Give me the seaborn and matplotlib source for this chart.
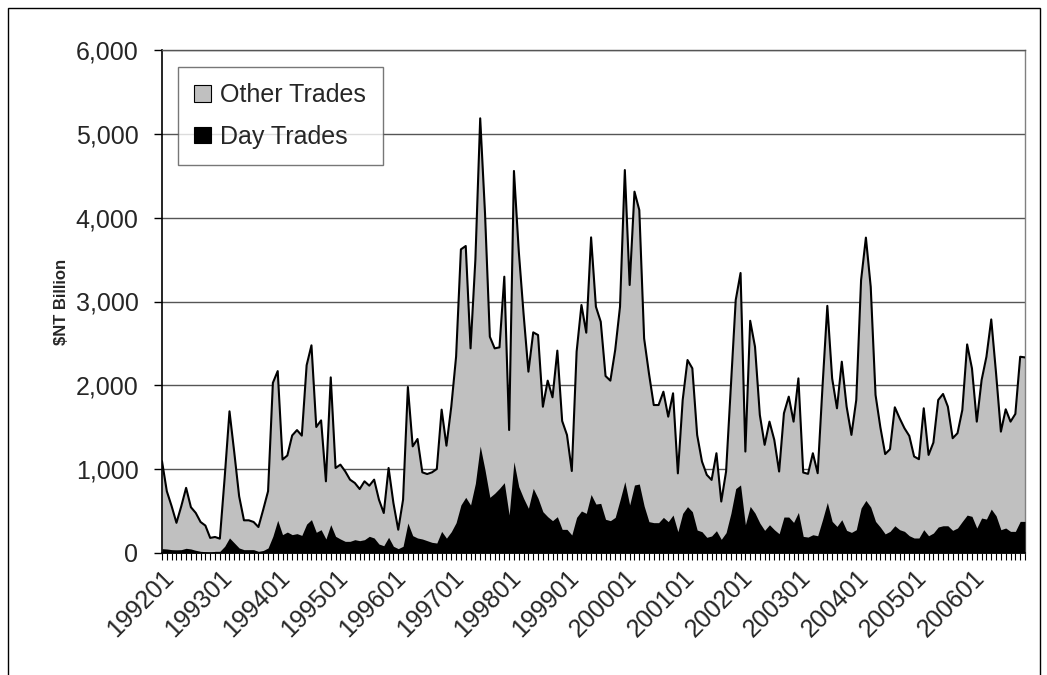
import matplotlib
matplotlib.use("Agg")
import matplotlib.pyplot as plt
from matplotlib.patches import Patch, Rectangle
from matplotlib.ticker import FuncFormatter
import numpy as np
import seaborn as sns

# monthly turnover, $NT billion, 199201 .. 200612
years = list(range(1992, 2007))
months = [f"{y}{m:02d}" for y in years for m in range(1, 13)]

total_trades = [
    1095, 737, 558, 360, 558, 777, 546, 478, 370, 327, 180, 191,
    171, 900, 1690, 1195, 677, 390, 390, 370, 310, 518, 737, 2030,
    2170, 1115, 1163, 1402, 1466, 1400, 2240, 2477, 1503, 1582, 855, 2095,
    1014, 1054, 974, 875, 835, 763, 855, 803, 875, 636, 477, 1014,
    596, 278, 636, 1980, 1272, 1360, 962, 942, 962, 1002, 1710, 1280,
    1745, 2342, 3622, 3662, 2441, 3500, 5185, 4050, 2580, 2441, 2453, 3296,
    1467, 4557, 3600, 2850, 2163, 2632, 2600, 1745, 2056, 1857, 2414, 1575,
    1408, 978, 2402, 2958, 2628, 3765, 2938, 2759, 2111, 2056, 2421, 2938,
    4568, 3197, 4310, 4091, 2560, 2143, 1765, 1765, 1924, 1626, 1905, 950,
    1825, 2302, 2203, 1408, 1091, 932, 872, 1190, 614, 972, 1984, 3018,
    3340, 1210, 2770, 2460, 1647, 1290, 1567, 1349, 972, 1667, 1865, 1567,
    2083, 960, 944, 1190, 952, 1984, 2948, 2083, 1726, 2282, 1746, 1409,
    1825, 3254, 3762, 3175, 1885, 1500, 1180, 1238, 1738, 1607, 1488, 1397,
    1151, 1119, 1726, 1170, 1317, 1825, 1897, 1746, 1369, 1429, 1706, 2488,
    2202, 1567, 2063, 2341, 2786, 2143, 1448, 1714, 1567, 1659, 2341, 2333,
]

day_trades = [
    52, 48, 40, 38, 40, 56, 48, 32, 20, 16, 8, 20,
    20, 80, 180, 120, 60, 40, 40, 40, 20, 30, 60, 200,
    390, 219, 250, 219, 231, 210, 345, 398, 247, 278, 167, 338,
    199, 167, 139, 139, 159, 147, 159, 199, 179, 107, 87, 187,
    80, 52, 80, 358, 207, 179, 167, 147, 127, 119, 258, 177,
    254, 362, 573, 664, 573, 831, 1276, 990, 664, 712, 771, 839,
    453, 1089, 791, 652, 533, 771, 652, 493, 433, 386, 433, 282,
    282, 215, 425, 501, 473, 698, 584, 592, 402, 386, 425, 632,
    851, 573, 811, 823, 561, 374, 362, 362, 425, 374, 453, 254,
    473, 553, 493, 274, 254, 187, 203, 266, 163, 243, 473, 768,
    812, 337, 556, 476, 357, 270, 337, 278, 230, 429, 429, 365,
    484, 198, 190, 218, 206, 397, 603, 377, 317, 397, 270, 246,
    278, 536, 627, 548, 377, 308, 228, 258, 325, 278, 258, 206,
    179, 179, 278, 206, 238, 310, 325, 325, 270, 298, 377, 452,
    437, 298, 417, 405, 524, 444, 278, 298, 258, 258, 377, 377,
]

sns.set_theme(style="white")
plt.rcParams["font.family"] = ["Liberation Sans", "DejaVu Sans"]

x = np.arange(len(months))

fig = plt.figure(figsize=(10.47, 6.75), dpi=100)
ax = fig.add_axes([162 / 1047, 1 - 553 / 675, 863 / 1047, 503 / 675])

ax.fill_between(x, 0, total_trades, color="#c0c0c0", lw=0, zorder=2)
ax.fill_between(x, 0, day_trades, color="black", lw=0, zorder=3)
sns.lineplot(x=x, y=total_trades, color="black", lw=1.5, ax=ax, zorder=4)

ax.set_xlim(0, len(months) - 1)
ax.set_ylim(0, 6000)
ax.set_yticks(range(0, 6001, 1000))
ax.yaxis.set_major_formatter(FuncFormatter(lambda v, p: f"{int(v):,}"))
ax.yaxis.grid(True, color="#555555", lw=1)
ax.set_axisbelow(True)

labels = [m if i % 12 == 0 else "" for i, m in enumerate(months)]
ax.set_xticks(x)
ax.set_xticklabels(labels, rotation=45, ha="right", va="top", rotation_mode="anchor")
ax.tick_params(axis="x", length=5, width=0.8, color="black", pad=4, labelsize=18, bottom=True)
ax.tick_params(axis="y", length=6, width=1, color="black", pad=11, labelsize=18, left=True)

for side in ["left", "bottom"]:
    ax.spines[side].set_color("black")
    ax.spines[side].set_linewidth(1.2)
ax.spines["top"].set_color("#555555")
ax.spines["right"].set_color("#808080")
ax.spines["top"].set_linewidth(1)
ax.spines["right"].set_linewidth(1)

ax.set_ylabel(r"\$NT Billion", fontsize=12, fontweight="bold")
ax.yaxis.set_label_coords(-(162 - 69) / 863, 0.5)

handles = [
    Patch(facecolor="#c0c0c0", edgecolor="black", lw=0.8, label="Other Trades"),
    Patch(facecolor="black", edgecolor="black", lw=0.8, label="Day Trades"),
]
leg = ax.legend(handles=handles, loc="upper left", bbox_to_anchor=(16 / 863, (553 - 67) / 503),
                borderaxespad=0, fontsize=18, frameon=True, fancybox=False,
                handlelength=0.65, handleheight=0.65, handletextpad=0.4,
                labelspacing=0.7, borderpad=0.65)
leg.get_frame().set_edgecolor("#555555")
leg.get_frame().set_linewidth(1)
leg.get_frame().set_facecolor("white")
leg.set_zorder(10)

# chart area border
fig.patches.append(Rectangle((8 / 1047, -0.1), 1032 / 1047, 1.1 - 8 / 675,
                             transform=fig.transFigure, fill=False,
                             edgecolor="black", lw=1))

fig.savefig("out.png", dpi=100)
